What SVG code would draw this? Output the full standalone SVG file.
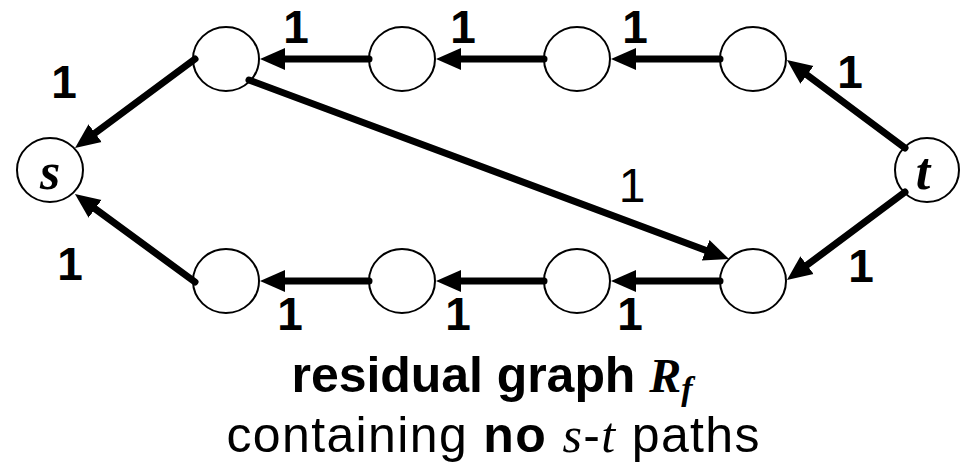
<svg xmlns="http://www.w3.org/2000/svg" width="960" height="465" viewBox="0 0 960 465">
<style>
.node{fill:#fff;stroke:#000;stroke-width:2}
.edge{stroke:#000;stroke-width:7;stroke-linecap:round;fill:none;marker-end:url(#ah)}
.lbl{font-family:"Liberation Sans",Arial,sans-serif;font-weight:bold;font-size:46px;text-anchor:middle;fill:#000}
.lblr{font-family:"Liberation Sans",Arial,sans-serif;font-size:48px;text-anchor:middle;fill:#000}
.var{font-family:"Liberation Serif","Times New Roman",serif;font-style:italic;font-weight:bold;font-size:52px;text-anchor:middle}
.cap{font-family:"Liberation Sans",Arial,sans-serif;text-anchor:middle;fill:#000}
.m{font-family:"Liberation Serif","Times New Roman",serif;font-style:italic}
</style>
<defs>
<marker id="ah" viewBox="0 -12 26 24" refX="2" refY="0" markerWidth="26" markerHeight="24" markerUnits="userSpaceOnUse" orient="auto">
<path d="M0,-11 L25,0 L0,11 Z" fill="#000"/>
</marker>
</defs>
<g id="n-s"><ellipse class="node" cx="50" cy="170" rx="33" ry="32"/><text class="var" x="50" y="189">s</text></g>
<g id="n-t"><ellipse class="node" cx="927" cy="170" rx="32" ry="32"/><text class="var" x="923" y="189">t</text></g>
<g id="n-a1"><ellipse class="node" cx="226" cy="59" rx="33" ry="32"/></g>
<g id="n-a2"><ellipse class="node" cx="402" cy="59" rx="33" ry="32"/></g>
<g id="n-a3"><ellipse class="node" cx="577" cy="59" rx="33" ry="32"/></g>
<g id="n-a4"><ellipse class="node" cx="753" cy="59" rx="33" ry="32"/></g>
<g id="n-b1"><ellipse class="node" cx="226" cy="281" rx="33" ry="32"/></g>
<g id="n-b2"><ellipse class="node" cx="402" cy="281" rx="33" ry="32"/></g>
<g id="n-b3"><ellipse class="node" cx="577" cy="281" rx="33" ry="32"/></g>
<g id="n-b4"><ellipse class="node" cx="753" cy="281" rx="33" ry="32"/></g>
<g id="edges">
<line class="edge" x1="369" y1="59" x2="283" y2="59"/>
<line class="edge" x1="544" y1="59" x2="459" y2="59"/>
<line class="edge" x1="720" y1="59" x2="634" y2="59"/>
<line class="edge" x1="905" y1="148" x2="805.4" y2="73.7"/>
<line class="edge" x1="195" y1="59" x2="93.5" y2="134.3"/>
<line class="edge" x1="369" y1="281" x2="283" y2="281"/>
<line class="edge" x1="544" y1="281" x2="459" y2="281"/>
<line class="edge" x1="720" y1="281" x2="634" y2="281"/>
<line class="edge" x1="905" y1="192" x2="805.4" y2="266.3"/>
<line class="edge" x1="195" y1="282" x2="93.5" y2="207.6"/>
<line class="edge" x1="249" y1="80" x2="707.5" y2="251"/>
</g>
<g id="labels">
<text class="lbl" x="296" y="43">1</text>
<text class="lbl" x="463" y="43">1</text>
<text class="lbl" x="635" y="43">1</text>
<text class="lbl" x="850" y="88">1</text>
<text class="lbl" x="64" y="98">1</text>
<text class="lbl" x="70" y="280">1</text>
<text class="lbl" x="290" y="330">1</text>
<text class="lbl" x="458" y="330">1</text>
<text class="lbl" x="630" y="330">1</text>
<text class="lbl" x="861" y="282">1</text>
<text class="lblr" x="632" y="202">1</text>
</g>
<g id="caption">
<text class="cap" x="492" y="392" font-size="50" font-weight="bold" textLength="401" lengthAdjust="spacing">residual graph <tspan class="m" style="font-size:48px;font-weight:bold">R</tspan><tspan class="m" style="font-size:34px;font-weight:bold" dy="8">f</tspan></text>
<text class="cap" x="493" y="452" font-size="50" textLength="533" lengthAdjust="spacing">containing <tspan font-weight="bold">no</tspan> <tspan class="m" style="font-size:50px">s</tspan>-<tspan class="m" style="font-size:50px">t</tspan> paths</text>
</g>
</svg>
